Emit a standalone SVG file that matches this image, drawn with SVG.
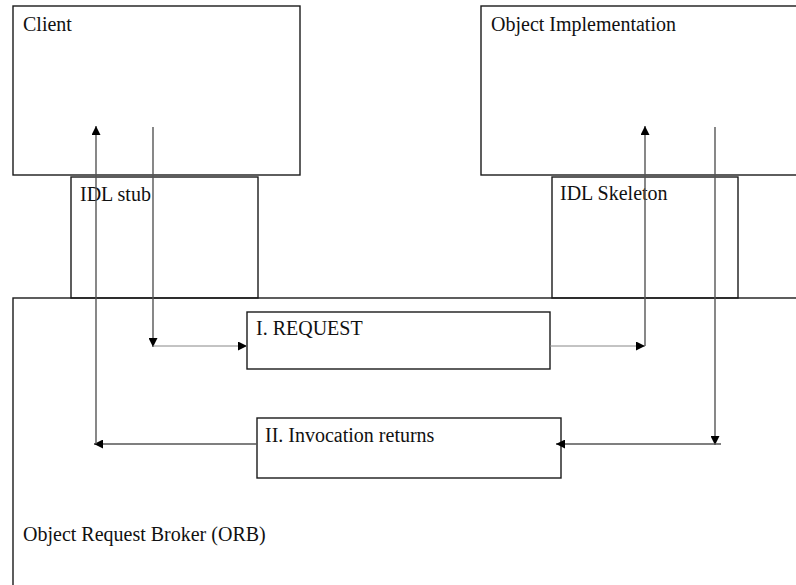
<svg xmlns="http://www.w3.org/2000/svg" width="796" height="585" viewBox="0 0 796 585">
  <style>
    .box { fill: none; stroke: #1a1a1a; stroke-width: 1.4; }
    .lbl { font-family: 'Liberation Serif', 'DejaVu Serif', 'Times New Roman', serif; font-size: 20px; fill: #111; }
    .wire { fill: none; stroke: #555; stroke-width: 1.4; }
    .thin { fill: none; stroke: #888; stroke-width: 1; }
  </style>
  <defs>
    <marker id="head" viewBox="0 0 10 10" refX="10" refY="5" markerWidth="10" markerHeight="9" markerUnits="userSpaceOnUse" orient="auto">
      <path d="M0,0 L10,5 L0,10 Z" fill="#000"/>
    </marker>
  </defs>
  <rect width="796" height="585" fill="#fff"/>

  <g id="client">
    <rect class="box" x="13" y="6" width="287" height="169"/>
    <text class="lbl" font-family="Liberation Serif, serif" x="23" y="31">Client</text>
  </g>
  <g id="object-implementation">
    <rect class="box" x="481" y="6" width="330" height="169"/>
    <text class="lbl" font-family="Liberation Serif, serif" x="491" y="31">Object Implementation</text>
  </g>
  <g id="idl-stub">
    <rect class="box" x="71" y="177" width="187" height="121"/>
    <text class="lbl" font-family="Liberation Serif, serif" x="80" y="201">IDL stub</text>
  </g>
  <g id="idl-skeleton">
    <rect class="box" x="552" y="177" width="186" height="121"/>
    <text class="lbl" font-family="Liberation Serif, serif" x="560" y="200">IDL Skeleton</text>
  </g>
  <g id="orb">
    <rect class="box" x="13" y="298" width="800" height="300"/>
    <text class="lbl" font-family="Liberation Serif, serif" x="23" y="541">Object Request Broker (ORB)</text>
  </g>
  <g id="request">
    <rect class="box" x="247" y="312" width="303" height="57" fill="#fff"/>
    <text class="lbl" font-family="Liberation Serif, serif" x="256" y="335">I. REQUEST</text>
  </g>
  <g id="invocation-returns">
    <rect class="box" x="257" y="418" width="304" height="60"/>
    <text class="lbl" font-family="Liberation Serif, serif" x="265" y="442">II. Invocation returns</text>
  </g>

  <g id="connectors">
    <!-- client side: call goes down through the stub, result comes back up -->
    <line class="wire" x1="153" y1="127" x2="153" y2="347" marker-end="url(#head)"/>
    <line class="thin" x1="153" y1="346" x2="247" y2="346" marker-end="url(#head)"/>
    <line class="wire" x1="257" y1="444" x2="94" y2="444" marker-end="url(#head)"/>
    <line class="wire" x1="96" y1="444" x2="96" y2="126" marker-end="url(#head)"/>
    <!-- server side: request goes up through the skeleton, reply comes back down -->
    <line class="thin" x1="550" y1="346" x2="645" y2="346" marker-end="url(#head)"/>
    <line class="wire" x1="645" y1="346" x2="645" y2="126" marker-end="url(#head)"/>
    <line class="wire" x1="715" y1="127" x2="715" y2="445" marker-end="url(#head)"/>
    <line class="wire" x1="721" y1="444" x2="556" y2="444" marker-end="url(#head)"/>
  </g>
</svg>
